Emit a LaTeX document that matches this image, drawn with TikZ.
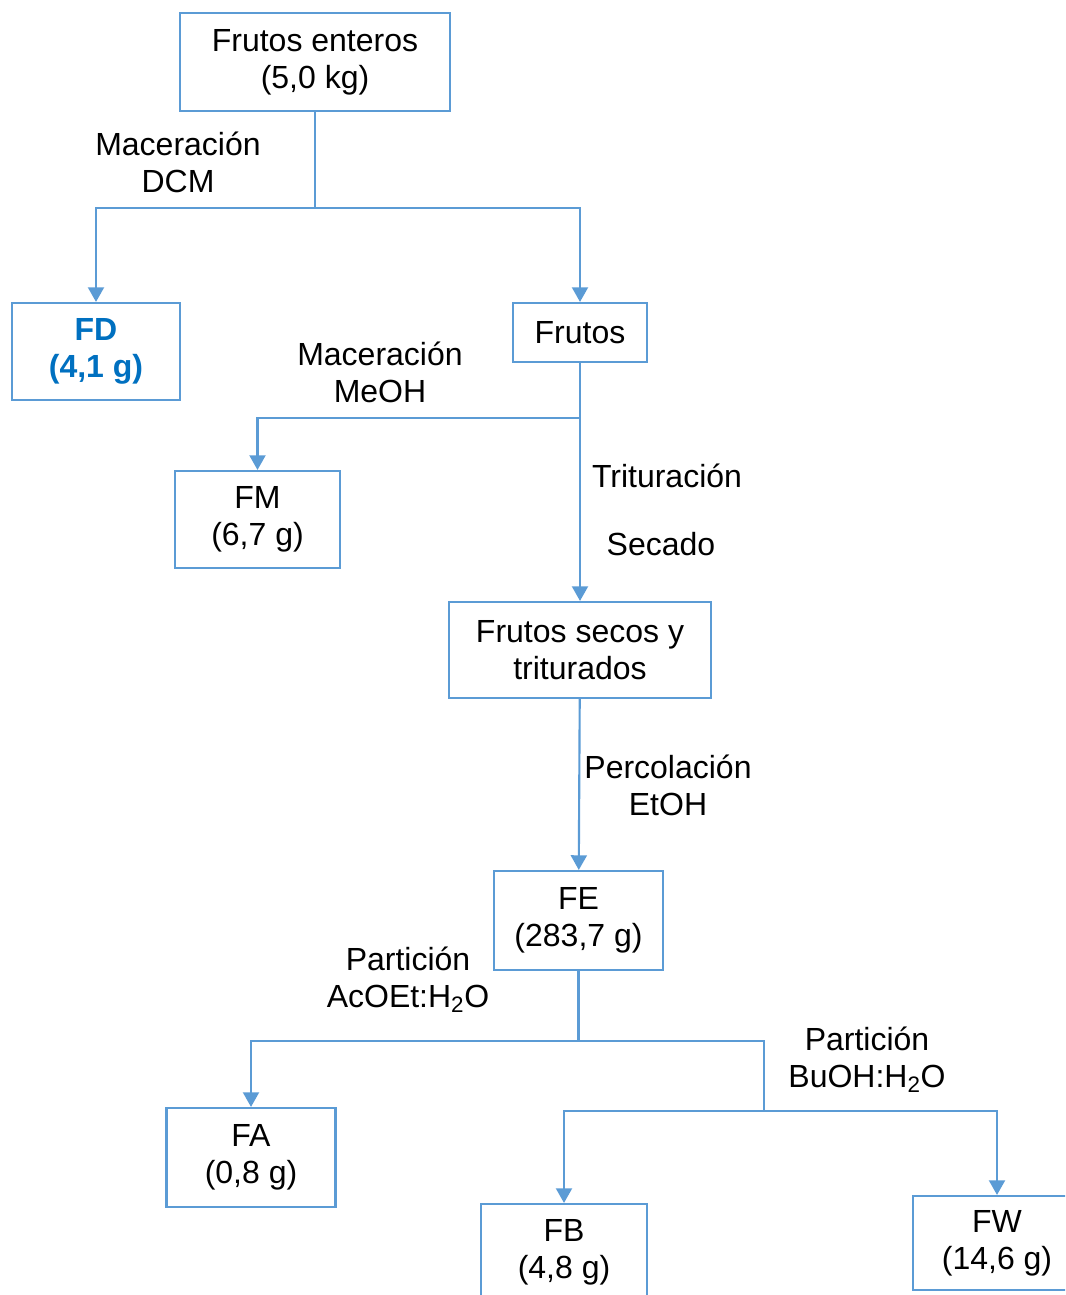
\documentclass[tikz,border=0pt]{standalone}
\usepackage{fontspec}
\setmainfont{Liberation Sans}
\usepackage{xcolor}
\usetikzlibrary{arrows.meta, positioning}
\definecolor{lineblue}{RGB}{91,155,213}
\definecolor{fdblue}{RGB}{0,112,192}
\tikzset{
  caja/.style={rectangle, draw=lineblue, line width=1.6pt, align=center,
               inner sep=0pt, font=\fontsize{24pt}{27.75pt}\selectfont},
  rotulo/.style={align=center, inner sep=0pt,
                 font=\fontsize{24pt}{27.75pt}\selectfont},
  linea/.style={draw=lineblue, line width=1.6pt},
  flecha/.style={linea, -{Triangle[length=11pt,width=12pt]}},
}

\begin{document}
\begin{tikzpicture}[x=0.75pt, y=-0.75pt]
  \useasboundingbox (0,0) rectangle (1065,1295);
  \clip (0,0) rectangle (1065,1295);

  \node[caja, minimum width=202.5pt, minimum height=73.5pt] (enteros) at (315,62)
    {Frutos enteros\\(5,0 kg)};
  \node[caja, minimum width=126pt, minimum height=72.75pt, text=fdblue,
        font=\fontsize{24pt}{27.75pt}\selectfont\bfseries] (fd) at (96,351.5)
    {FD\\(4,1 g)};
  \node[caja, minimum width=100.5pt, minimum height=44.25pt] (frutos) at (580,332.5)
    {Frutos};
  \node[caja, minimum width=123.75pt, minimum height=72.75pt] (fm) at (257.5,519.5)
    {FM\\(6,7 g)};
  \node[caja, minimum width=196.5pt, minimum height=72pt] (secos) at (580,650)
    {Frutos secos y\\triturados};
  \node[caja, minimum width=126.75pt, minimum height=74.25pt] (fe) at (578.5,920.5)
    {FE\\(283,7 g)};
  \node[caja, minimum width=126.75pt, minimum height=74.25pt] (fa) at (251,1157.5)
    {FA\\(0,8 g)};
  \node[caja, minimum width=124.5pt, minimum height=72.75pt] (fb) at (564,1252.5)
    {FB\\(4,8 g)};
  \node[caja, minimum width=126pt, minimum height=70.5pt] (fw) at (997,1243)
    {FW\\(14,6 g)};

  % rotulos de los pasos
  \node[rotulo] (dcm)   at (178,162)  {Maceración\\DCM};
  \node[rotulo] (meoh)  at (380,372)  {Maceración\\MeOH};
  \node[rotulo] (trit)  at (667,476)  {Trituración};
  \node[rotulo] (sec)   at (661,544)  {Secado};
  \node[rotulo] (etoh)  at (668,785)  {Percolación\\EtOH};
  \node[rotulo] (acoet) at (408,980)  {Partición\\AcOEt:H\textsubscript{2}O};
  \node[rotulo] (buoh)  at (867,1060) {Partición\\BuOH:H\textsubscript{2}O};

  \coordinate (j1) at (315,208);
  \coordinate (j2) at (580,418);
  \coordinate (j3) at (578.5,1041);
  \coordinate (j4) at (764,1111);

  \draw[linea]  (enteros) -- (j1);
  \draw[flecha] (j1) -| (fd);
  \draw[flecha] (j1) -| (frutos);
  \draw[flecha] (frutos) -- (secos);
  \draw[flecha] (j2) -| (fm);
  \draw[flecha] (secos) -- (fe);
  \draw[linea]  (fe) -- (j3);
  \draw[flecha] (j3) -| (fa);
  \draw[linea]  (j3) -| (j4);
  \draw[flecha] (j4) -| (fb);
  \draw[flecha] (j4) -| (fw);
\end{tikzpicture}
\end{document}
